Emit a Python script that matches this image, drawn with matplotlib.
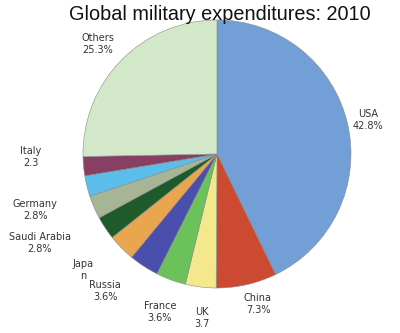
import matplotlib
matplotlib.use('Agg')
import matplotlib.pyplot as plt

countries = ['USA', 'China', 'UK', 'France', 'Russia', 'Japan',
             'Saudi Arabia', 'Germany', 'India', 'Italy', 'Others']
shares = [42.8, 7.3, 3.7, 3.6, 3.6, 3.3, 2.8, 2.8, 2.5, 2.3, 25.3]
label_texts = ['USA\n42.8%', 'China\n7.3%', 'UK\n3.7', 'France\n3.6%',
               'Russia\n3.6%', 'Japa\nn', 'Saudi Arabia\n2.8%',
               'Germany\n2.8%', '', 'Italy\n2.3', 'Others\n25.3%']
colors = ['#729fd6', '#cc4a32', '#f3e98c', '#6cc25a', '#4a4fae', '#eaa64e',
          '#1e5a2a', '#a6b596', '#5bbde9', '#873f63', '#d3e8c8']

# label spots in pixels (x, y from top)
label_px = [(368, 120), (258, 304), (202, 318), (160, 312), (105, 291),
            (83, 270), (40, 243), (35, 210), (0, 0), (31, 157), (98, 44)]

fig = plt.figure(figsize=(4, 3.33), dpi=100)
cx, cy, r = 217, 154, 134
ax = fig.add_axes([(cx - r) / 400, (333 - cy - r) / 333, 2 * r / 400, 2 * r / 333])
ax.pie(shares, colors=colors, startangle=90, counterclock=False,
       wedgeprops={'edgecolor': '#8a8a8a', 'linewidth': 0.4})
ax.set_xlim(-1, 1)
ax.set_ylim(-1, 1)
ax.set_aspect('equal')

for txt, (x, y) in zip(label_texts, label_px):
    if txt:
        fig.text(x / 400, 1 - y / 333, txt, ha='center', va='center',
                 fontsize=7, color='#333333', linespacing=1.3)

fig.text(0.55, 1 - 14 / 333, 'Global military expenditures: 2010', ha='center',
         va='center', fontsize=14.3, family='Liberation Sans', color='#111111')

plt.savefig('out.png', dpi=100)
